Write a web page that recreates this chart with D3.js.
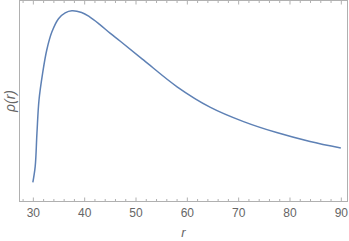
<!DOCTYPE html>
<html>
<head>
<meta charset="utf-8">
<script src="https://d3js.org/d3.v7.min.js"></script>
<style>
  body { margin: 0; background: #fff; }
  text { font-family: "Liberation Sans", Arial, sans-serif; }
</style>
</head>
<body>
<svg width="349" height="241"></svg>
<script>
// radius values
var rVals = [30, 30.46, 30.8, 31.2, 31.9, 32.7, 33.7, 35.0, 36.3, 37.6, 39.5, 41.0, 43.0,
             45.1, 47.1, 51.6, 58.1, 64.6, 71.05, 77.5, 84.0, 90];
// density, arbitrary units (peak = 1)
var rhoVals = [0, 0.093, 0.287, 0.480, 0.635, 0.770, 0.876, 0.954, 0.988, 1.000, 0.990, 0.966, 0.921,
               0.868, 0.821, 0.712, 0.557, 0.437, 0.354, 0.290, 0.238, 0.200];
var xTicks = [30, 40, 50, 60, 70, 80, 90];

var svg = d3.select("svg");
var sx = 19.5, dx = 347.5, su = 0.5, giu = 201.5;

var x = d3.scaleLinear().domain([27.4, 91.3]).range([sx, dx]);
var y = d3.scaleLinear().domain([-0.112, 1.06]).range([giu, su]);

var dati = rVals.map(function (r, i) { return { r: r, v: rhoVals[i] }; });

var grigio = "#b0b0b0";
var minor = d3.range(28, 92, 2).filter(function (t) { return t % 10 !== 0; });

function pulisci(g) {
  g.select(".domain").remove();
  g.selectAll("line").attr("stroke", grigio);
}

// asse in basso
var asseX = svg.append("g").attr("transform", "translate(0," + giu + ")")
  .call(d3.axisBottom(x).tickValues(xTicks).tickSize(-4).tickPadding(7).tickFormat(d3.format("d")))
  .call(pulisci);
asseX.selectAll("text").attr("fill", "#666").style("font-size", "12px");
svg.append("g").attr("transform", "translate(0," + giu + ")")
  .call(d3.axisBottom(x).tickValues(minor).tickSize(-2.5).tickFormat(""))
  .call(pulisci);

// asse in alto (solo tacche)
svg.append("g").attr("transform", "translate(0," + su + ")")
  .call(d3.axisTop(x).tickValues(xTicks).tickSize(-4).tickFormat(""))
  .call(pulisci);
svg.append("g").attr("transform", "translate(0," + su + ")")
  .call(d3.axisTop(x).tickValues(minor).tickSize(-2.5).tickFormat(""))
  .call(pulisci);

// cornice
svg.append("rect")
  .attr("x", sx).attr("y", su)
  .attr("width", dx - sx).attr("height", giu - su)
  .attr("fill", "none").attr("stroke", grigio).attr("stroke-width", 1);

// curva
var linea = d3.line()
  .x(function (d) { return x(d.r); })
  .y(function (d) { return y(d.v); })
  .curve(d3.curveCatmullRom.alpha(0.5));

svg.append("path")
  .datum(dati)
  .attr("d", linea)
  .attr("fill", "none")
  .attr("stroke", "#5e81b5")
  .attr("stroke-width", 1.5);

// etichette
svg.append("text")
  .attr("x", (sx + dx) / 2).attr("y", 237)
  .attr("text-anchor", "middle")
  .attr("fill", "#666")
  .style("font-size", "13px").style("font-style", "italic")
  .text("r");

svg.append("text")
  .attr("transform", "translate(15," + ((su + giu) / 2) + ") rotate(-90)")
  .attr("text-anchor", "middle")
  .attr("fill", "#666")
  .style("font-size", "14px").style("font-style", "italic")
  .text("ρ(r)");
</script>
</body>
</html>
